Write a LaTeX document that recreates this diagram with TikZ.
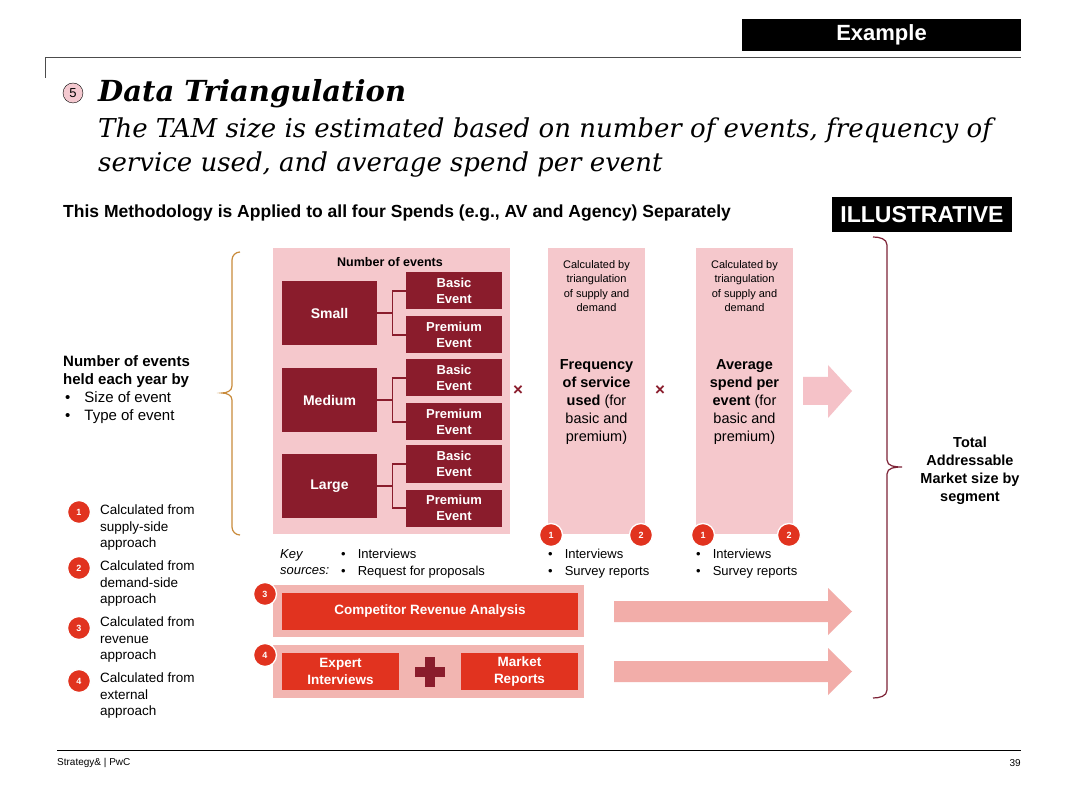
\documentclass[tikz,border=0pt]{standalone}
\usepackage{fontspec}
\setmainfont{Liberation Sans}
\newfontfamily\headfont{DejaVu Serif}
\usetikzlibrary{positioning}

\definecolor{panelpink}{HTML}{F5C8CC}
\definecolor{rowpink}{HTML}{F2B5B1}
\definecolor{arrowpink}{HTML}{F2ADA9}
\definecolor{bigarrow}{HTML}{F5C2C8}
\definecolor{wine}{HTML}{8A1C2C}
\definecolor{pwcred}{HTML}{E1331F}
\definecolor{braceorange}{HTML}{C98B3B}
\definecolor{bracewine}{HTML}{7D2236}
\definecolor{dotpink}{HTML}{F4C9D0}

\newcommand{\fsz}[2]{\fontsize{#1}{#2}\selectfont}

\begin{document}
\begin{tikzpicture}[
  x=1pt, y=-1pt,
  panel/.style={fill=panelpink, minimum width=97, minimum height=286, inner sep=0pt},
  sizebox/.style={fill=wine, text=white, font=\fsz{14}{16}\bfseries, minimum width=95, minimum height=64},
  eventbox/.style={fill=wine, text=white, font=\fsz{13}{16}\bfseries, align=center, minimum width=96, minimum height=37, inner sep=1pt},
  redbox/.style={fill=pwcred, text=white, font=\fsz{13.5}{16.5}\bfseries, align=center, minimum height=37, inner sep=1pt},
  rowpanel/.style={fill=rowpink, minimum width=311, minimum height=52, inner sep=0pt},
  numdot/.style={circle, fill=pwcred, draw=white, line width=1.3pt, minimum size=23, inner sep=0pt, text=white, font=\fsz{9}{10}\bfseries},
  link/.style={draw=wine, line width=1.1pt},
  body/.style={font=\fsz{13.5}{16.5}, align=left, inner sep=0pt, anchor=north west},
  small/.style={font=\fsz{11}{14.5}, align=center, inner sep=0pt},
  mult/.style={text=wine, font=\fsz{17}{18}\bfseries, inner sep=0pt},
  tag/.style={fill=black, text=white, font=\fsz{22}{24}\bfseries, inner sep=0pt}
]
\useasboundingbox[fill=white] (0,0) rectangle (1080,810);

% header
\node[tag, minimum width=279, minimum height=32] (example) at (881.5,35) {Example};
\draw[gray!60!black, line width=1pt] (45,78) -- (45,58) -- (1021,58);
\node[circle, draw=black, fill=dotpink, minimum size=20, inner sep=0pt, font=\fsz{13}{14}] (five) at (73,93) {5};
\node[anchor=base west, inner sep=0pt, font=\headfont\fsz{29}{34}\bfseries\itshape] (title) at (98,102) {Data Triangulation};
\node[anchor=base west, inner sep=0pt, font=\headfont\fsz{26}{34}\itshape] (sub1) at (98,138) {The TAM size is estimated based on number of events, frequency of};
\node[anchor=base west, inner sep=0pt, font=\headfont\fsz{26}{34}\itshape] (sub2) at (98,172) {service used, and average spend per event};
\node[anchor=base west, inner sep=0pt, font=\fsz{17.5}{20}\bfseries] (method) at (63,218) {This Methodology is Applied to all four Spends (e.g., AV and Agency) Separately};
\node[tag, font=\fsz{23}{25}\bfseries, minimum width=180, minimum height=35] (illus) at (922,214.5) {ILLUSTRATIVE};

% left side
\draw[braceorange, line width=1.2pt] (240,252) to[out=180,in=90] (232,260) -- (232,386)
  to[out=-90,in=0] (222,393) to[out=0,in=90] (232,400) -- (232,527) to[out=-90,in=180] (240,535);
\node[body, font=\fsz{15}{18}] (held) at (63,355) {\textbf{Number of events}\\\textbf{held each year by}\\\hspace{2pt}•\hspace{14pt}Size of event\\\hspace{2pt}•\hspace{14pt}Type of event};

\foreach \n/\y in {1/512, 2/568, 3/628, 4/681} {
  \node[numdot] (leg\n) at (79,\y) {\n};
}
\node[body] (legtxt1) at (100,505) {Calculated from\\supply-side\\approach};
\node[body] (legtxt2) at (100,561) {Calculated from\\demand-side\\approach};
\node[body] (legtxt3) at (100,617) {Calculated from\\revenue\\approach};
\node[body] (legtxt4) at (100,673) {Calculated from\\external\\approach};

% number of events
\node[panel, minimum width=237] (events) at (391.5,391) {};
\node[font=\fsz{12.5}{14}\bfseries] (evtitle) at (390,262) {Number of events};
\foreach \s/\y/\lab in {small/313/Small, medium/400/Medium, large/486/Large} {
  \node[sizebox] (\s) at (329.5,\y) {\lab};
  \node[eventbox] (\s basic) at (454,\y-22) {Basic\\Event};
  \node[eventbox] (\s prem) at (454,\y+22) {Premium\\Event};
  \draw[link] (\s.east) -- ++(15,0) |- (\s basic.west);
  \draw[link] (\s.east) ++(15,0) |- (\s prem.west);
}
\node[mult] (times1) at (518,391) {×};

% frequency and spend
\node[panel] (freq) at (596.5,391) {};
\node[small] (freqsrc) at (596.5,286) {Calculated by\\triangulation\\of supply and\\demand};
\node[font=\fsz{14.5}{18}, align=center] (freqtxt) at (596.5,402) {\textbf{Frequency}\\\textbf{of service}\\\textbf{used} (for\\basic and\\premium)};
\node[mult] (times2) at (660,391) {×};
\node[panel] (spend) at (744.5,391) {};
\node[small] (spendsrc) at (744.5,286) {Calculated by\\triangulation\\of supply and\\demand};
\node[font=\fsz{14.5}{18}, align=center] (spendtxt) at (744.5,402) {\textbf{Average}\\\textbf{spend per}\\\textbf{event} (for\\basic and\\premium)};
\fill[bigarrow] (803,377) -- (828,377) -- (828,365) -- (852,391) -- (828,418) -- (828,405) -- (803,405) -- cycle;

\node[numdot] (freqone) at (551,535) {1};
\node[numdot] (freqtwo) at (641,535) {2};
\node[numdot] (spendone) at (703,535) {1};
\node[numdot] (spendtwo) at (789,535) {2};

% key sources
\node[body, font=\fsz{13}{16.5}\itshape] (key) at (280,549) {Key\\sources:};
\node[body, font=\fsz{13}{16.5}] (keylist) at (341,549) {•\hspace{12pt}Interviews\\•\hspace{12pt}Request for proposals};
\node[body, font=\fsz{13}{16.5}] (freqlist) at (548,549) {•\hspace{12pt}Interviews\\•\hspace{12pt}Survey reports};
\node[body, font=\fsz{13}{16.5}] (spendlist) at (696,549) {•\hspace{12pt}Interviews\\•\hspace{12pt}Survey reports};

% revenue and external rows
\node[rowpanel] (revrow) at (428.5,611) {};
\node[redbox, minimum width=296] (revenue) at (430,611.5) {Competitor Revenue Analysis};
\node[numdot] (revnum) at (265,594) {3};
\node[rowpanel, minimum height=53] (extrow) at (428.5,671.5) {};
\node[redbox, minimum width=117] (expert) at (340.5,671.5) {Expert\\Interviews};
\node[redbox, minimum width=117] (market) at (519.5,671.5) {Market\\Reports};
\node[inner sep=0pt, minimum size=30] (plus) at (430,672) {};
\fill[wine] (plus.west) ++(0,-5) rectangle ++(30,10);
\fill[wine] (plus.north) ++(-5,0) rectangle ++(10,30);
\node[numdot] (extnum) at (265,655) {4};
\foreach \y in {611.5, 671.5} {
  \fill[arrowpink] (614,\y-10.5) -- (828,\y-10.5) -- (828,\y-23.5) -- (852,\y)
    -- (828,\y+23.5) -- (828,\y+10.5) -- (614,\y+10.5) -- cycle;
}

% total
\draw[bracewine, line width=1.2pt] (873,237) to[out=0,in=90] (887,245) -- (887,460)
  to[out=-90,in=180] (902,467) to[out=180,in=90] (887,474) -- (887,690) to[out=-90,in=0] (873,698);
\node[font=\fsz{14.5}{18}\bfseries, align=center] (tam) at (970,471) {Total\\Addressable\\Market size by\\segment};

% footer
\draw[black, line width=0.8pt] (57,750) -- (1021,750);
\node[anchor=west, inner sep=0pt, font=\fsz{10}{12}] (firm) at (57,763) {Strategy\& | PwC};
\node[anchor=east, inner sep=0pt, font=\fsz{10}{12}] (page) at (1021,763) {39};
\end{tikzpicture}
\end{document}
